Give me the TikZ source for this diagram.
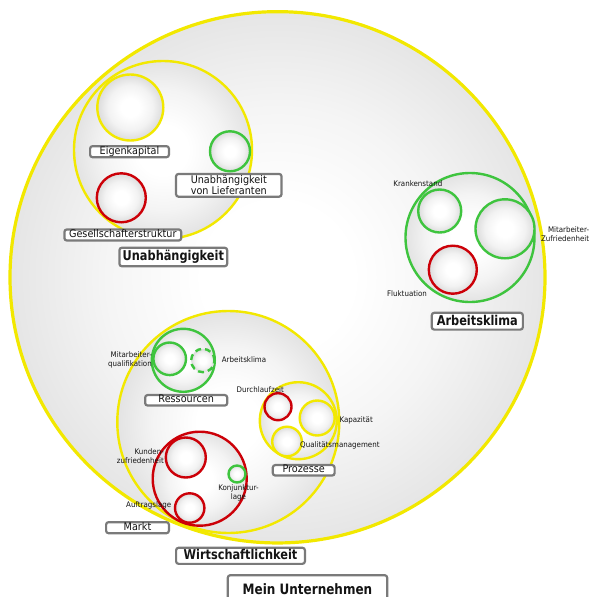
\documentclass[tikz,border=0pt]{standalone}
\usepackage{fontspec}
\setmainfont{DejaVu Sans}
\newfontfamily\regfont[FakeStretch=0.92]{DejaVu Sans}
\newfontfamily\boldfont[FakeStretch=0.84]{DejaVu Sans}
\usetikzlibrary{shapes.geometric}
\definecolor{ylw}{RGB}{242,232,0}
\definecolor{grn}{RGB}{62,196,62}
\definecolor{rd}{RGB}{204,0,8}
\definecolor{bordergray}{RGB}{122,122,122}
\definecolor{txt}{RGB}{20,20,20}
\pgfdeclareradialshading{bigsh}{\pgfpoint{0bp}{0bp}}{color(0bp)=(white); color(7bp)=(white); color(16bp)=(gray!8); color(25bp)=(gray!20); color(50bp)=(gray!20)}
\pgfdeclareradialshading{midsh}{\pgfpoint{0bp}{0bp}}{color(0bp)=(white); color(7bp)=(white); color(17bp)=(gray!9); color(25bp)=(gray!22); color(50bp)=(gray!22)}
\pgfdeclareradialshading{bubsh}{\pgfpoint{0bp}{0bp}}{color(0bp)=(white); color(7bp)=(white); color(17bp)=(gray!10); color(25bp)=(gray!28); color(50bp)=(gray!28)}
\tikzset{
  bub/.style={circle, inner sep=0pt, shade, shading=bubsh, line width=2.4pt},
  midbub/.style={circle, inner sep=0pt, shade, shading=midsh, line width=2.4pt},
  lblbox/.style={draw=bordergray, line width=2.2pt, fill=white, rounded corners=2.5pt, inner sep=0pt, text=txt},
  reglbl/.style={lblbox, font=\regfont\fontsize{10.5}{11.5}\selectfont, text height=7.7pt, text depth=2.5pt},
  twolbl/.style={lblbox, font=\regfont\fontsize{10.5}{11}\selectfont, align=center},
  boldlbl/.style={lblbox, font=\boldfont\bfseries\fontsize{13.5}{15}\selectfont, text height=10.3pt, text depth=2.5pt},
  small/.style={font=\regfont\fontsize{7.7}{9}\selectfont, inner sep=0pt, text=txt}
}
\begin{document}
\begin{tikzpicture}[x=1pt,y=-1pt]
\useasboundingbox (0,0) rectangle (589,597);
% outer
\node[ellipse, draw=ylw, line width=3.2pt, inner sep=0pt, minimum width=535pt, minimum height=531.3pt,
      shade, shading=bigsh] (mein) at (277.5,277.3) {};
% level 2
\node[midbub, draw=ylw, minimum size=178pt] (unab) at (163,150) {};
\node[midbub, draw=grn, minimum size=129pt] (arbk) at (470,237.5) {};
\node[midbub, draw=ylw, minimum size=222pt] (wirt) at (228.3,422) {};
% level 3
\node[bub, draw=ylw, minimum size=66pt] (eigen) at (130.3,107.5) {};
\node[bub, draw=grn, minimum size=40pt] (liefer) at (230,151.3) {};
\node[bub, draw=rd, minimum size=49pt] (gesell) at (121.3,197.8) {};
\node[bub, draw=grn, minimum size=43pt] (kranken) at (439.7,211) {};
\node[bub, draw=grn, minimum size=59pt] (mazuf) at (505,228.8) {};
\node[bub, draw=rd, minimum size=48pt] (flukt) at (452.8,269.7) {};
\node[midbub, draw=grn, minimum size=63pt] (ress) at (183.3,360.3) {};
\node[midbub, draw=ylw, minimum size=77pt] (proz) at (298.3,420.7) {};
\node[midbub, draw=rd, minimum size=94pt] (markt) at (199.7,478.7) {};
% level 4
\node[bub, draw=grn, minimum size=32.6pt] (maqual) at (169.7,358.8) {};
\node[bub, draw=grn, dash pattern=on 6pt off 4pt, minimum size=23.4pt] (arbkl) at (202.8,360.5) {};
\node[bub, draw=rd, minimum size=27pt] (durchl) at (278,406.7) {};
\node[bub, draw=ylw, minimum size=35pt] (kapaz) at (317.2,418) {};
\node[bub, draw=ylw, minimum size=29.6pt] (qm) at (287,441.5) {};
\node[bub, draw=rd, minimum size=40pt] (kunden) at (185.8,457.5) {};
\node[bub, draw=rd, minimum size=29.4pt] (auftrag) at (189.7,508) {};
\node[bub, draw=grn, minimum size=17pt] (konj) at (237,474) {};
% boxed labels
\node[reglbl, minimum width=78.8pt, minimum height=11.1pt] (l-eigen) at (129.5,151.7) {Eigenkapital};
\node[twolbl, minimum width=105.5pt, minimum height=22.8pt] (l-liefer) at (228.8,185.3) {Unabhängigkeit\\von Lieferanten};
\node[reglbl, minimum width=116.8pt, minimum height=11.1pt] (l-gesell) at (122.8,235) {Gesellschafterstruktur};
\node[boldlbl, minimum width=107.8pt, minimum height=18.5pt] (l-unab) at (173.3,257) {Unabhängigkeit};
\node[boldlbl, minimum width=91.1pt, minimum height=16.8pt] (l-arbk) at (477.3,321.2) {Arbeitsklima};
\node[reglbl, minimum width=82.1pt, minimum height=10.5pt] (l-ress) at (186.2,400.3) {Ressourcen};
\node[reglbl, minimum width=61.8pt, minimum height=10.5pt] (l-proz) at (303.7,470.3) {Prozesse};
\node[reglbl, minimum width=62.8pt, minimum height=11.1pt] (l-markt) at (137.5,527.7) {Markt};
\node[boldlbl, minimum width=128.8pt, minimum height=16.1pt] (l-wirt) at (240.5,555.8) {Wirtschaftlichkeit};
\node[boldlbl, font=\boldfont\bfseries\fontsize{14.3}{16}\selectfont, anchor=north, minimum width=159.4pt,
      text height=19.2pt, text depth=20pt] (l-mein) at (307.5,574.1) {Mein Unternehmen};
% small labels
\node[small] (t-krank) at (417.8,183.3) {Krankenstand};
\node[small, align=right, anchor=east] (t-mazuf) at (589.3,234.2) {Mitarbeiter-\\Zufriedenheit};
\node[small] (t-flukt) at (407,293.3) {Fluktuation};
\node[small, align=right, anchor=east] (t-maqual) at (152,360) {Mitarbeiter-\\qualifikation};
\node[small, anchor=west] (t-arbkl) at (221.7,359.3) {Arbeitsklima};
\node[small] (t-durchl) at (260.3,389.3) {Durchlaufzeit};
\node[small, anchor=west] (t-kapaz) at (339.3,420) {Kapazität};
\node[small, anchor=west] (t-qm) at (300,445) {Qualitätsmanagement};
\node[small, align=right, anchor=east] (t-kunden) at (164,455.7) {Kunden-\\zufriedenheit};
\node[small, align=center] (t-konj) at (238.5,492.8) {Konjunktur-\\lage};
\node[small] (t-auftrag) at (148.7,505.7) {Auftragslage};
\end{tikzpicture}
\end{document}
